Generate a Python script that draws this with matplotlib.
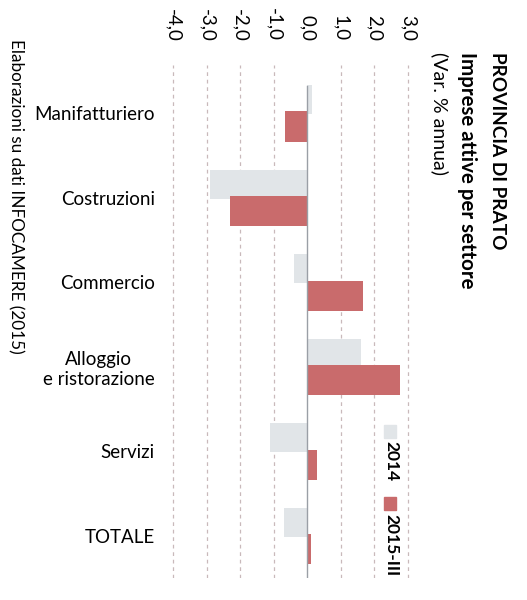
import matplotlib.pyplot as plt
from matplotlib.patches import Rectangle
import numpy as np

plt.rcParams['font.family'] = ['Lato', 'DejaVu Sans']

# --- Dati ---
settori = ['Manifatturiero', 'Costruzioni', 'Commercio',
           'Alloggio\ne ristorazione', 'Servizi', 'TOTALE']
var_2014 = [0.15, -2.9, -0.4, 1.6, -1.1, -0.7]
var_2015 = [-0.65, -2.3, 1.65, 2.75, 0.3, 0.1]
tick_valori = [-4, -3, -2, -1, 0, 1, 2, 3]
tick_etichette = ['-4,0', '-3,0', '-2,0', '-1,0', '0,0', '1,0', '2,0', '3,0']

col_2014 = '#e1e5e8'
col_2015 = '#c96b6c'

fig = plt.figure(figsize=(5.27, 6), dpi=100)
ax = fig.add_axes([163 / 527, 22 / 600, 255 / 527, 513 / 600])

y = np.arange(len(settori))
ax.barh(y - 0.16, var_2014, height=0.34, color=col_2014, zorder=2)
ax.barh(y + 0.16, var_2015, height=0.36, color=col_2015, zorder=3)

ax.set_xlim(-4.3, 3.3)
ax.set_ylim(5.5, -0.57)

# griglia tratteggiata
for v in tick_valori:
    if v != 0:
        ax.axvline(v, color='#c9b9bb', lw=0.9, ls=(0, (3, 3)), zorder=1)
ax.axvline(0, ymax=0.96, color='#9a9fa6', lw=1.0, zorder=4)

ax.xaxis.tick_top()
ax.set_xticks(tick_valori)
ax.set_xticklabels(tick_etichette, rotation=270, fontsize=13.5)
ax.tick_params(axis='x', length=0, pad=17)
ax.set_yticks(y)
ax.set_yticklabels(settori, fontsize=13.5, ha='right', multialignment='center')
ax.tick_params(axis='y', length=0, pad=6)
for s in ax.spines.values():
    s.set_visible(False)

# titolo (ruotato)
fig.text(497 / 527, 1 - 52 / 600, 'PROVINCIA DI PRATO', rotation=270,
         fontsize=13.7, fontweight='bold', ha='center', va='top')
fig.text(467 / 527, 1 - 52 / 600, 'Imprese attive per settore', rotation=270,
         fontsize=14.8, fontweight='bold', ha='center', va='top')
fig.text(440 / 527, 1 - 52 / 600, '(Var. % annua)', rotation=270,
         fontsize=14, ha='center', va='top')

# fonte
fig.text(16 / 527, 1 - 39 / 600, 'Elaborazioni su dati INFOCAMERE (2015)',
         rotation=270, fontsize=12.3, ha='center', va='top')

# legenda
fig.patches.append(Rectangle((384 / 527, 1 - 438 / 600), 12 / 527, 13 / 600,
                             transform=fig.transFigure, color=col_2014))
fig.text(391 / 527, 1 - 441 / 600, '2014', rotation=270, fontsize=12.5,
         fontweight='bold', ha='center', va='top')
fig.patches.append(Rectangle((384 / 527, 1 - 510 / 600), 12 / 527, 13 / 600,
                             transform=fig.transFigure, color=col_2015))
fig.text(391 / 527, 1 - 514 / 600, '2015-III', rotation=270, fontsize=12.5,
         fontweight='bold', ha='center', va='top')

fig.savefig('out.png', dpi=100)
